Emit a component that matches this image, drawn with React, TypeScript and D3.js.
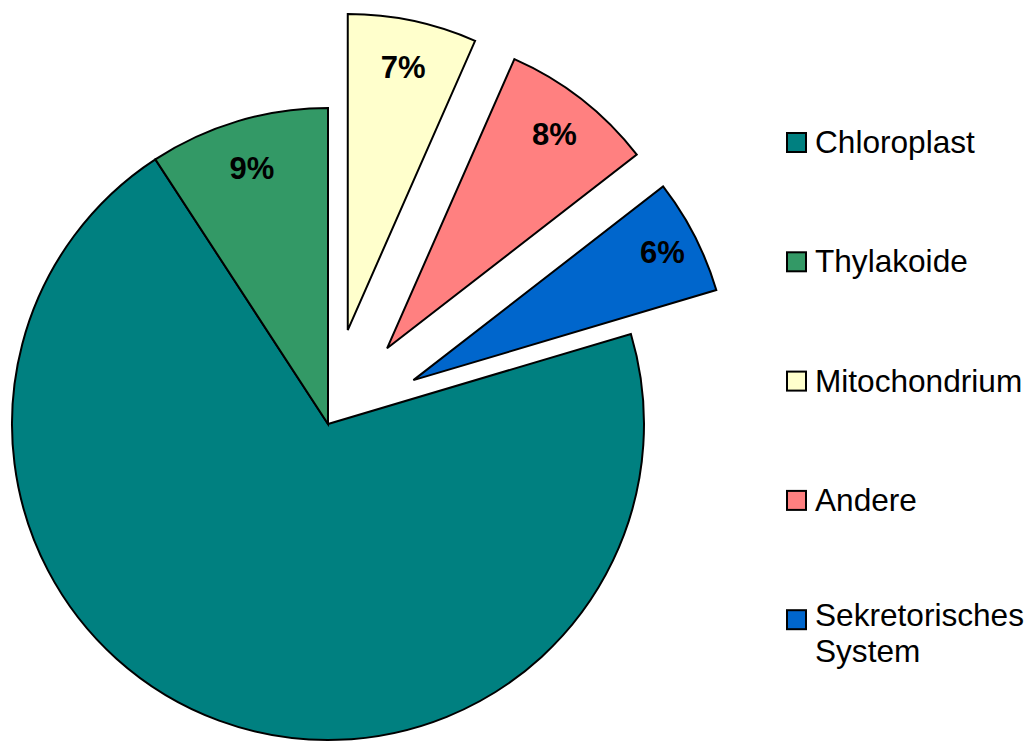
import React from "react";
import * as d3 from "d3";

// Slice order as drawn clockwise from 12 o'clock
const categories = ["Mitochondrium", "Andere", "Sekretorisches System", "Chloroplast", "Thylakoide"];
const shares = [6.6, 7.9, 5.9, 70.4, 9.2];
const exploded = ["Mitochondrium", "Andere", "Sekretorisches System"];
const hiddenLabels = ["Chloroplast"];

// Legend order
const legendOrder = ["Chloroplast", "Thylakoide", "Mitochondrium", "Andere", "Sekretorisches System"];
const legendLines: Record<string, string[]> = {
  "Sekretorisches System": ["Sekretorisches", "System"],
};

const colors: Record<string, string> = {
  Chloroplast: "#008080",
  Thylakoide: "#339966",
  Mitochondrium: "#FFFFCC",
  Andere: "#FF8080",
  "Sekretorisches System": "#0066CC",
};

// distance of each percentage label from its slice's apex
const labelRadius: Record<string, number> = {
  Mitochondrium: 269,
  Andere: 272,
  "Sekretorisches System": 280,
  Thylakoide: 267,
};

const W = 1028;
const H = 742;
const cx = 328;
const cy = 424;
const R = 316;
const explodeDist = 96;

export default function App() {
  const data = categories.map((c, i) => ({ name: c, value: shares[i] }));
  const pie = d3
    .pie<{ name: string; value: number }>()
    .sort(null)
    .value((d) => d.value)
    .startAngle(0)
    .endAngle(2 * Math.PI);
  const arcs = pie(data);
  const arcGen = d3
    .arc<d3.PieArcDatum<{ name: string; value: number }>>()
    .innerRadius(0)
    .outerRadius(R);
  const total = d3.sum(shares);
  const fmt = (v: number) => `${Math.round((v / total) * 100)}%`;

  return (
    <svg
      width={W}
      height={H}
      style={{ position: "absolute", left: 0, top: 0, background: "#fff" }}
      fontFamily="'Liberation Sans', Arial, sans-serif"
    >
      <g transform={`translate(${cx},${cy})`}>
        {arcs.map((a) => {
          const mid = (a.startAngle + a.endAngle) / 2;
          const off = exploded.includes(a.data.name) ? explodeDist : 0;
          const ox = Math.sin(mid) * off;
          const oy = -Math.cos(mid) * off;
          const lr = labelRadius[a.data.name] ?? 268;
          return (
            <g key={a.data.name} transform={`translate(${ox},${oy})`}>
              <path
                d={arcGen(a) || ""}
                fill={colors[a.data.name]}
                stroke="#000"
                strokeWidth={2}
                strokeLinejoin="miter"
              />
              {!hiddenLabels.includes(a.data.name) && (
                <text
                  x={Math.sin(mid) * lr}
                  y={-Math.cos(mid) * lr}
                  dy="0.35em"
                  textAnchor="middle"
                  fontWeight="bold"
                  fontSize={31}
                  fill="#000"
                >
                  {fmt(a.data.value)}
                </text>
              )}
            </g>
          );
        })}
      </g>
      <g>
        {legendOrder.map((name, i) => {
          const baseY = 153 + i * 119.3;
          const lines = legendLines[name] || [name];
          const lineGap = 36;
          const firstY = baseY - ((lines.length - 1) * lineGap) / 8;
          return (
            <g key={name}>
              <rect
                x={787}
                y={baseY - 20}
                width={19}
                height={19}
                fill={colors[name]}
                stroke="#000"
                strokeWidth={2}
              />
              {lines.map((l, j) => (
                <text key={j} x={815} y={firstY + j * lineGap} fontSize={31.6} fill="#000">
                  {l}
                </text>
              ))}
            </g>
          );
        })}
      </g>
    </svg>
  );
}
